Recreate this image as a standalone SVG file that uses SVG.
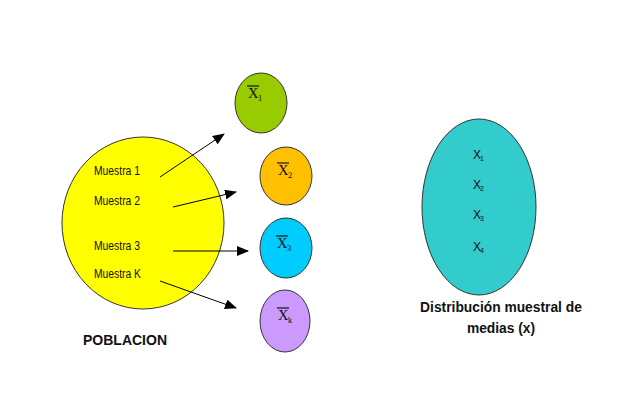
<svg xmlns="http://www.w3.org/2000/svg" width="631" height="406" viewBox="0 0 631 406">
<style>
.node{stroke:#333;stroke-width:1}
.lbl{font-family:"Liberation Sans",Arial,sans-serif;font-size:13.5px;fill:#111}
.bold{font-family:"Liberation Sans",Arial,sans-serif;font-weight:bold;fill:#111}
.xb{font-family:"Liberation Serif","Times New Roman",serif;font-size:14.5px;fill:#111}
.sub{font-family:"Liberation Serif","Times New Roman",serif;font-size:8.5px;fill:#111}
.ov{stroke:#111;stroke-width:1.2}
.xs{font-family:"Liberation Sans",Arial,sans-serif;font-size:12px;fill:#111}
.xss{font-family:"Liberation Sans",Arial,sans-serif;font-size:7px;fill:#111}
.conn{stroke:#000;stroke-width:1;fill:none;marker-end:url(#ah)}
</style>
<defs>
<marker id="ah" markerWidth="12" markerHeight="10" refX="11" refY="5" orient="auto" markerUnits="userSpaceOnUse">
<path d="M0,0 L12,5 L0,10 Z" fill="#000"/>
</marker>
</defs>
<rect width="631" height="406" fill="#fff"/>
<g id="poblacion">
<ellipse class="node" cx="143" cy="223" rx="81" ry="86" fill="#FFFF00"/>
<text class="lbl" x="94" y="175" textLength="46" lengthAdjust="spacingAndGlyphs">Muestra 1</text>
<text class="lbl" x="94" y="205" textLength="46" lengthAdjust="spacingAndGlyphs">Muestra 2</text>
<text class="lbl" x="94" y="250" textLength="46" lengthAdjust="spacingAndGlyphs">Muestra 3</text>
<text class="lbl" x="94" y="278" textLength="47" lengthAdjust="spacingAndGlyphs">Muestra K</text>
<text class="bold" x="83" y="345" font-size="14">POBLACION</text>
</g>
<g id="x1">
<ellipse class="node" cx="261" cy="103" rx="26" ry="30" fill="#99CC00"/>
<line class="ov" x1="247" y1="86" x2="259" y2="86"/>
<text class="xb" x="248" y="98">X</text>
<text class="sub" x="258" y="101">1</text>
</g>
<g id="x2">
<ellipse class="node" cx="286" cy="176" rx="26" ry="29" fill="#FFC000"/>
<line class="ov" x1="277" y1="163" x2="289" y2="163"/>
<text class="xb" x="278" y="175">X</text>
<text class="sub" x="288" y="178">2</text>
</g>
<g id="x3">
<ellipse class="node" cx="286" cy="248" rx="26" ry="30" fill="#00CCFF"/>
<line class="ov" x1="276" y1="236" x2="288" y2="236"/>
<text class="xb" x="277" y="248">X</text>
<text class="sub" x="287" y="251">3</text>
</g>
<g id="xk">
<ellipse class="node" cx="285" cy="321" rx="25" ry="31" fill="#CC99FF"/>
<line class="ov" x1="277" y1="308" x2="289" y2="308"/>
<text class="xb" x="278" y="320">X</text>
<text class="sub" x="288" y="323">k</text>
</g>
<g id="distribucion">
<ellipse class="node" cx="479" cy="207" rx="57" ry="88" fill="#33CCCC"/>
<text class="xs" x="473" y="159">X</text><text class="xss" x="480" y="161">1</text>
<text class="xs" x="473" y="189">X</text><text class="xss" x="480" y="191">2</text>
<text class="xs" x="473" y="219">X</text><text class="xss" x="480" y="221">3</text>
<text class="xs" x="473" y="251">X</text><text class="xss" x="480" y="253">4</text>
<text class="bold" x="501" y="312" font-size="13.8" text-anchor="middle">Distribución muestral de</text>
<text class="bold" x="501" y="333" font-size="13.8" text-anchor="middle">medias (x)</text>
</g>
<g id="connectors">
<line class="conn" x1="160" y1="177" x2="224" y2="134"/>
<line class="conn" x1="173" y1="207" x2="236" y2="192"/>
<line class="conn" x1="173" y1="251" x2="248" y2="251"/>
<line class="conn" x1="160" y1="281" x2="236" y2="308"/>
</g>
</svg>
